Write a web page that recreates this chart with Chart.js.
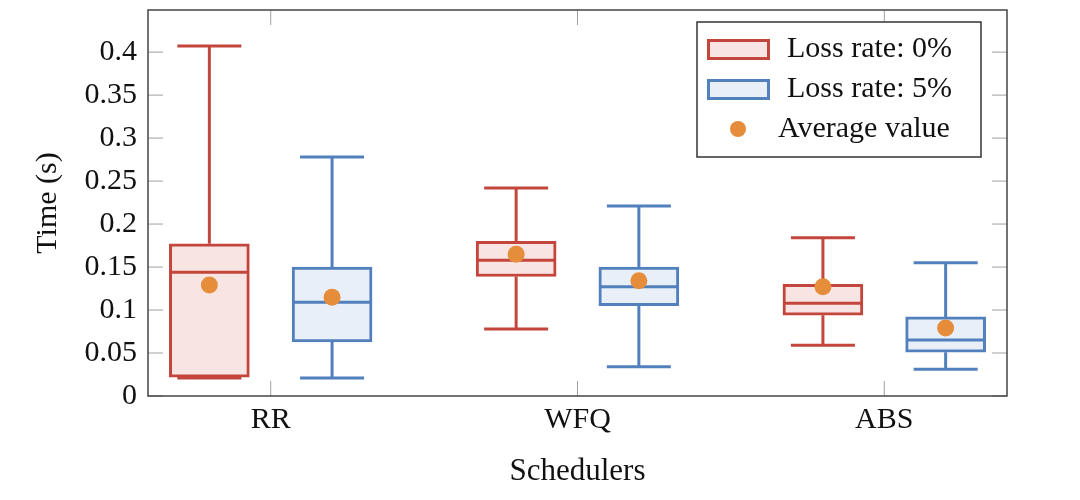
<!DOCTYPE html>
<html>
<head>
<meta charset="utf-8">
<script src="https://cdn.jsdelivr.net/npm/chart.js@4/dist/chart.umd.min.js"></script>
<style>
  html, body { margin: 0; padding: 0; background: #fff; }
</style>
</head>
<body>
<canvas id="box-chart" width="1080" height="500"></canvas>
<script>
/* datos */
const schedulers = ["RR", "WFQ", "ABS"]
const yTicks = [0, 0.05, 0.1, 0.15, 0.2, 0.25, 0.3, 0.35, 0.4]

/* loss rate 0% */
const loss0Min = [0.021, 0.078, 0.059]
const loss0Q1 = [0.022, 0.139, 0.094]
const loss0Median = [0.144, 0.158, 0.108]
const loss0Q3 = [0.177, 0.180, 0.130]
const loss0Max = [0.407, 0.242, 0.184]
const loss0Mean = [0.129, 0.165, 0.127]

/* loss rate 5% */
const loss5Min = [0.021, 0.034, 0.031]
const loss5Q1 = [0.063, 0.105, 0.051]
const loss5Median = [0.109, 0.127, 0.065]
const loss5Q3 = [0.150, 0.150, 0.092]
const loss5Max = [0.278, 0.221, 0.155]
const loss5Mean = [0.115, 0.134, 0.079]

const shift = 0.2
const serif = "'Liberation Serif', 'DejaVu Serif', serif"

const redLine = "#c4453b"
const redFill = "#f8e4e2"
const blueLine = "#5180bd"
const blueFill = "#e8eff8"
const orange = "#e58d3a"

const boxData = (q1, q3, dx) => q1.map((v, i) => ({ x: i + 1 + dx, y: [v, q3[i]] }))
const pointData = (vals, dx) => vals.map((v, i) => ({ x: i + 1 + dx, y: v }))

/* bigotes, mediana y caps */
const whiskerPlugin = {
    id: "whiskers",
    afterDatasetDraw(chart, args) {
        const ds = chart.data.datasets[args.index]
        if (!ds.stats) return
        const ctx = chart.ctx
        const y = chart.scales.y
        const capHalf = 32
        ctx.save()
        ctx.strokeStyle = ds.borderColor
        ctx.lineWidth = ds.borderWidth
        ctx.lineCap = "butt"
        args.meta.data.forEach((bar, i) => {
            const half = bar.width / 2 - ds.borderWidth / 2
            const pMin = y.getPixelForValue(ds.stats.min[i])
            const pQ1 = y.getPixelForValue(ds.stats.q1[i])
            const pMed = y.getPixelForValue(ds.stats.median[i])
            const pQ3 = y.getPixelForValue(ds.stats.q3[i])
            const pMax = y.getPixelForValue(ds.stats.max[i])
            ctx.beginPath()
            ctx.moveTo(bar.x - half, pMed)
            ctx.lineTo(bar.x + half, pMed)
            ctx.moveTo(bar.x, pQ3)
            ctx.lineTo(bar.x, pMax)
            ctx.moveTo(bar.x - capHalf, pMax)
            ctx.lineTo(bar.x + capHalf, pMax)
            ctx.moveTo(bar.x, pQ1)
            ctx.lineTo(bar.x, pMin)
            ctx.moveTo(bar.x - capHalf, pMin)
            ctx.lineTo(bar.x + capHalf, pMin)
            ctx.stroke()
        })
        ctx.restore()
    }
}

/* marco y ticks hacia adentro (estilo pgfplots) */
const framePlugin = {
    id: "frame",
    afterDatasetsDraw(chart) {
        const { ctx, chartArea: a, scales } = chart
        const len = 15
        ctx.save()
        ctx.strokeStyle = "#a0a0a0"
        ctx.lineWidth = 1
        ctx.beginPath()
        scales.x.ticks.forEach(t => {
            const px = scales.x.getPixelForValue(t.value)
            ctx.moveTo(px, a.bottom); ctx.lineTo(px, a.bottom - len)
            ctx.moveTo(px, a.top); ctx.lineTo(px, a.top + len)
        })
        scales.y.ticks.forEach(t => {
            const py = scales.y.getPixelForValue(t.value)
            ctx.moveTo(a.left, py); ctx.lineTo(a.left + len, py)
            ctx.moveTo(a.right, py); ctx.lineTo(a.right - len, py)
        })
        ctx.stroke()
        ctx.strokeStyle = "#444"
        ctx.lineWidth = 1.5
        ctx.strokeRect(a.left, a.top, a.right - a.left, a.bottom - a.top)
        ctx.restore()
    }
}

/* leyenda dentro del area */
const legendPlugin = {
    id: "boxLegend",
    afterDraw(chart) {
        const { ctx, chartArea: a } = chart
        const w = 284, h = 135
        const left = a.right - 26 - w
        const top = a.top + 12
        ctx.save()
        ctx.fillStyle = "#fff"
        ctx.fillRect(left, top, w, h)
        ctx.strokeStyle = "#333"
        ctx.lineWidth = 1.5
        ctx.strokeRect(left, top, w, h)
        ctx.font = "30px " + serif
        ctx.textBaseline = "middle"
        ctx.fillStyle = "#111"
        const items = chart.data.datasets.slice().sort((p, q) => p.legendIndex - q.legendIndex)
        items.forEach((ds, i) => {
            const cy = top + 27 + i * 40
            if (ds.type === "scatter") {
                ctx.fillStyle = ds.backgroundColor
                ctx.beginPath()
                ctx.arc(left + 41, cy, 8, 0, Math.PI * 2)
                ctx.fill()
                ctx.fillStyle = "#111"
                ctx.fillText(ds.label, left + 81, cy)
            } else {
                ctx.fillStyle = ds.backgroundColor
                ctx.fillRect(left + 10, cy - 10, 63, 21)
                ctx.strokeStyle = ds.borderColor
                ctx.lineWidth = 3
                ctx.strokeRect(left + 11.5, cy - 8.5, 60, 18)
                ctx.fillStyle = "#111"
                ctx.fillText(ds.label, left + 90, cy)
            }
        })
        ctx.restore()
    }
}

const contenedor = document.querySelector("#box-chart").getContext("2d")

const boxChart = new Chart(contenedor, {
    type: "bar",
    data: {
        datasets: [
            {
                type: "scatter",
                label: "Average value",
                data: pointData(loss0Mean, -shift).concat(pointData(loss5Mean, shift)),
                backgroundColor: orange,
                borderWidth: 0,
                pointRadius: 8.5,
                order: 0,
                legendIndex: 2,
            },
            {
                label: "Loss rate: 0%",
                data: boxData(loss0Q1, loss0Q3, -shift),
                stats: { min: loss0Min, q1: loss0Q1, median: loss0Median, q3: loss0Q3, max: loss0Max },
                backgroundColor: redFill,
                borderColor: redLine,
                borderWidth: 3,
                borderSkipped: false,
                barThickness: 80,
                grouped: false,
                order: 1,
                legendIndex: 0,
            },
            {
                label: "Loss rate: 5%",
                data: boxData(loss5Q1, loss5Q3, shift),
                stats: { min: loss5Min, q1: loss5Q1, median: loss5Median, q3: loss5Q3, max: loss5Max },
                backgroundColor: blueFill,
                borderColor: blueLine,
                borderWidth: 3,
                borderSkipped: false,
                barThickness: 80,
                grouped: false,
                order: 1,
                legendIndex: 1,
            },
        ]
    },
    options: {
        responsive: false,
        animation: false,
        layout: { padding: { top: 10, right: 73, left: 0, bottom: 0 } },
        plugins: {
            legend: { display: false },
            tooltip: { enabled: false },
        },
        scales: {
            x: {
                type: "linear",
                min: 0.6,
                max: 3.4,
                offset: false,
                grid: { display: false },
                border: { display: false },
                afterBuildTicks: s => { s.ticks = schedulers.map((_, i) => ({ value: i + 1 })) },
                afterFit: s => { s.height = 104; s.paddingLeft = 0; s.paddingRight = 0 },
                ticks: {
                    padding: -2,
                    color: "#111",
                    font: { family: serif, size: 30 },
                    callback: v => schedulers[v - 1],
                },
                title: {
                    display: true,
                    text: "Schedulers",
                    color: "#111",
                    font: { family: serif, size: 31 },
                    padding: { top: 0, bottom: 10 },
                },
            },
            y: {
                min: 0,
                max: 0.449,
                grid: { display: false },
                border: { display: false },
                afterBuildTicks: s => { s.ticks = yTicks.map(v => ({ value: v })) },
                afterFit: s => { s.width = 148; s.paddingTop = 0; s.paddingBottom = 0 },
                ticks: {
                    padding: 3,
                    color: "#111",
                    font: { family: serif, size: 30 },
                    callback: v => String(v),
                },
                title: {
                    display: true,
                    text: "Time (s)",
                    color: "#111",
                    font: { family: serif, size: 30 },
                    padding: { top: 30, bottom: 0 },
                },
            },
        },
    },
    plugins: [whiskerPlugin, framePlugin, legendPlugin],
})
</script>
</body>
</html>
